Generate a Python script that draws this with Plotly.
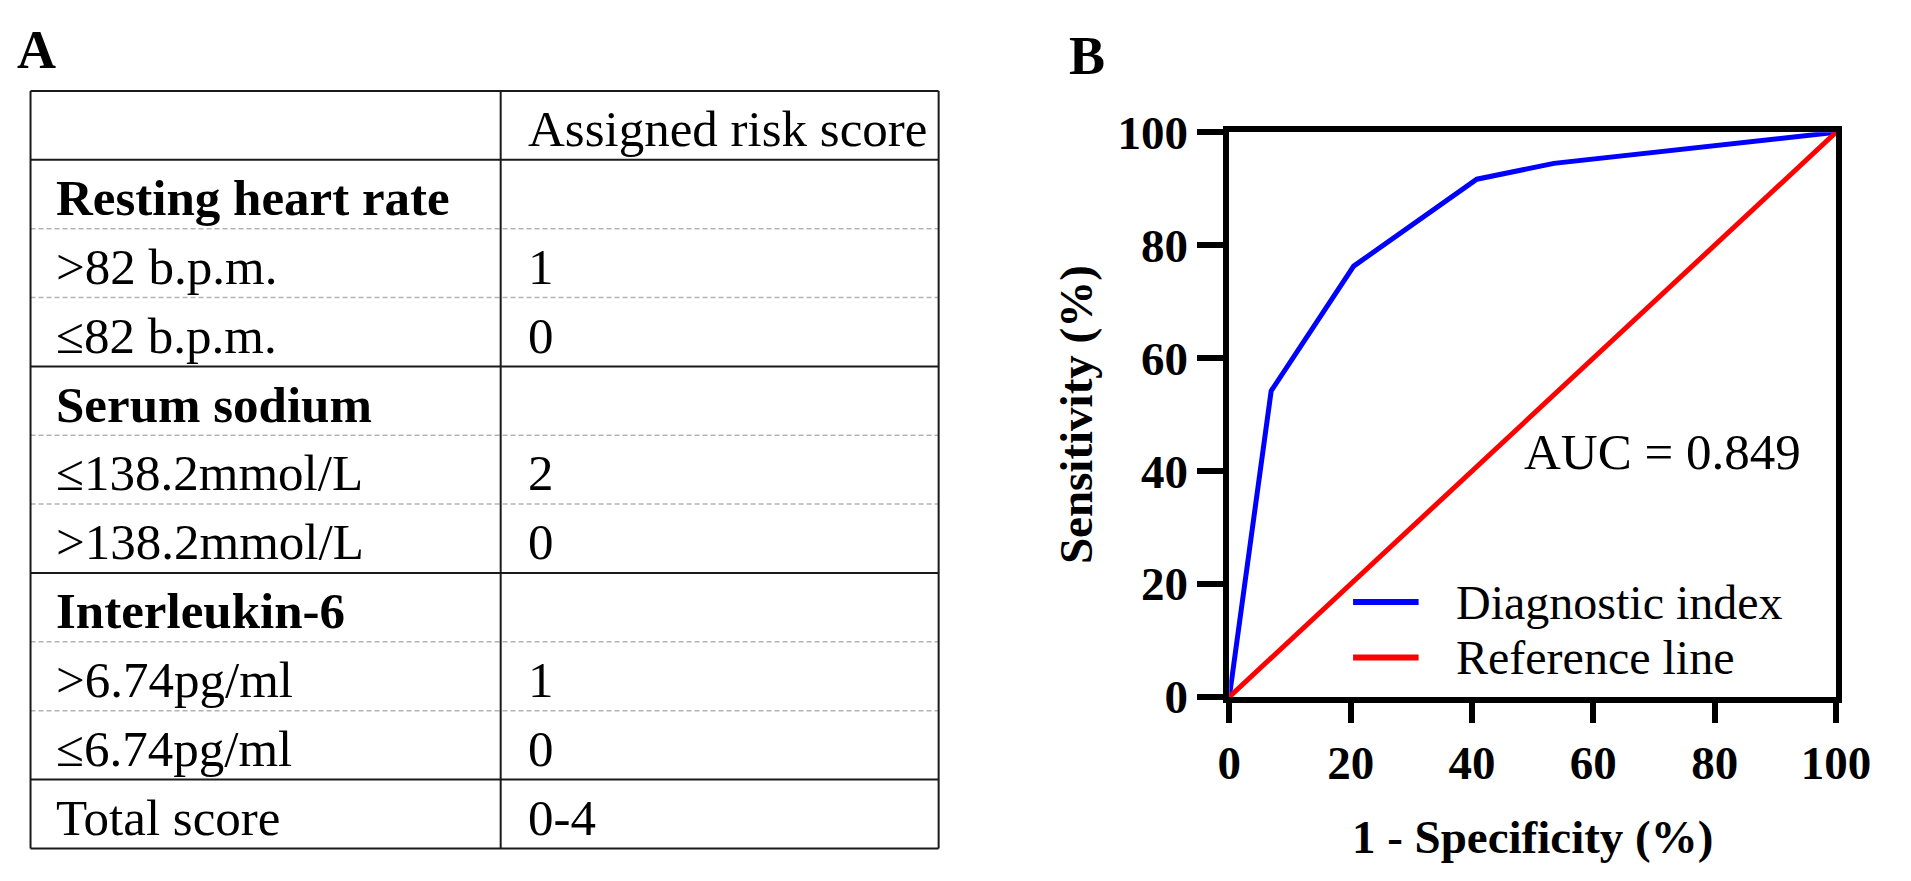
import plotly.graph_objects as go

W, H = 1911, 881
SERIF = "Liberation Serif, Times New Roman, serif"

# table (panel A)
row_labels = [
    "", "Resting heart rate", ">82 b.p.m.", "≤82 b.p.m.",
    "Serum sodium", "≤138.2mmol/L", ">138.2mmol/L",
    "Interleukin-6", ">6.74pg/ml", "≤6.74pg/ml", "Total score",
]
row_scores = ["Assigned risk score", "", "1", "0", "", "2", "0", "", "1", "0", "0-4"]
group_rows = ["Resting heart rate", "Serum sodium", "Interleukin-6"]

# ROC curve (panel B)
fpr = [0, 6.9, 20.5, 40.8, 53.5, 100]
tpr = [0, 54.2, 76.3, 91.7, 94.5, 100]
ref_x = [0, 100]
ref_y = [0, 100]
ticks = [0, 20, 40, 60, 80, 100]
auc_text = "AUC = 0.849"
legend_names = ["Diagnostic index", "Reference line"]
legend_colors = ["#0000ff", "#ff0000"]


def px(x, y):
    return x / W, 1 - y / H


fig = go.Figure()

fig.add_trace(go.Scatter(x=fpr, y=tpr, mode="lines", name=legend_names[0],
                         line=dict(color=legend_colors[0], width=5),
                         showlegend=False))
fig.add_trace(go.Scatter(x=ref_x, y=ref_y, mode="lines", name=legend_names[1],
                         line=dict(color=legend_colors[1], width=5),
                         showlegend=False))

shapes = []
annotations = []

# table grid
t_left, t_right, t_top, t_bottom, t_div = 19, 950, 69, 874, 501
n_rows = len(row_labels)
row_h = (t_bottom - t_top) / n_rows


def hline(y, dashed):
    x0, y0 = px(t_left, y)
    x1, _ = px(t_right, y)
    if dashed:
        line = dict(color="#b4b4b4", width=1.5, dash="5px,3px")
    else:
        line = dict(color="#1a1a1a", width=2)
    shapes.append(dict(type="line", xref="paper", yref="paper",
                       x0=x0, x1=x1, y0=y0, y1=y0, line=line, layer="below"))


for i in range(n_rows + 1):
    y = t_top + i * row_h
    if i == 0 or i == n_rows:
        dashed = False
    else:
        nxt = row_labels[i]
        dashed = nxt not in group_rows and nxt != "Total score" and i > 1
    hline(y, dashed)

for x in (t_left, t_div, t_right):
    x0, y0 = px(x, t_top)
    _, y1 = px(x, t_bottom)
    shapes.append(dict(type="line", xref="paper", yref="paper",
                       x0=x0, x1=x0, y0=y0, y1=y1,
                       line=dict(color="#1a1a1a", width=2)))

for i, (lab, sc) in enumerate(zip(row_labels, row_scores)):
    yc = t_top + (i + 0.5) * row_h + 4
    if lab:
        x, y = px(43, yc)
        annotations.append(dict(
            x=x, y=y, xref="paper", yref="paper", text=lab, showarrow=False,
            xanchor="left", yanchor="middle",
            font=dict(family=SERIF, size=51, color="black",
                      weight="bold" if lab in group_rows else "normal")))
    if sc:
        x, y = px(527, yc)
        annotations.append(dict(
            x=x, y=y, xref="paper", yref="paper", text=sc, showarrow=False,
            xanchor="left", yanchor="middle",
            font=dict(family=SERIF, size=51, color="black")))

# panel letters
for letter, (lx, ly) in (("A", (25, 26)), ("B", (1102, 32))):
    x, y = px(lx, ly)
    annotations.append(dict(
        x=x, y=y, xref="paper", yref="paper", text=letter, showarrow=False,
        xanchor="center", yanchor="middle",
        font=dict(family=SERIF, size=54, color="black", weight="bold")))

# AUC label
annotations.append(dict(
    x=48.2, y=43.3, xref="x", yref="y", text=auc_text, showarrow=False,
    xanchor="left", yanchor="middle",
    font=dict(family=SERIF, size=51, color="black")))

# legend drawn inside the plot area
for name, color, ly in zip(legend_names, legend_colors, [16.8, 7.0]):
    shapes.append(dict(type="line", xref="x", yref="y",
                       x0=20.4, x1=31.2, y0=ly, y1=ly,
                       line=dict(color=color, width=6)))
    annotations.append(dict(
        x=37.1, y=ly, xref="x", yref="y", text=name, showarrow=False,
        xanchor="left", yanchor="middle",
        font=dict(family=SERIF, size=48, color="black")))

axis_common = dict(
    range=[0, 100], tickvals=ticks, showgrid=False, zeroline=False,
    showline=True, linecolor="black", linewidth=6, mirror=True,
    ticks="outside", tickwidth=6, tickcolor="black",
    tickfont=dict(family=SERIF, size=47, color="black", weight="bold"),
)

x0, _ = px(1248, 0)
x1, _ = px(1870, 0)
_, y0 = px(0, 713)
_, y1 = px(0, 113)

fig.update_layout(
    width=W, height=H,
    margin=dict(l=0, r=0, t=0, b=0),
    paper_bgcolor="white", plot_bgcolor="white",
    showlegend=False,
    shapes=shapes,
    annotations=annotations,
    xaxis=dict(axis_common, domain=[x0, x1], ticklen=20,
               title=dict(text="1 - Specificity (%)", standoff=34,
                          font=dict(family=SERIF, size=47, color="black",
                                    weight="bold"))),
    yaxis=dict(axis_common, domain=[y0, y1], ticklen=26,
               title=dict(text="Sensitivity (%)", standoff=12,
                          font=dict(family=SERIF, size=47, color="black",
                                    weight="bold"))),
)

fig.write_html(
    "out.html",
    config={"displayModeBar": False},
    post_script="document.body.style.margin='0';document.body.style.overflow='hidden';",
)
